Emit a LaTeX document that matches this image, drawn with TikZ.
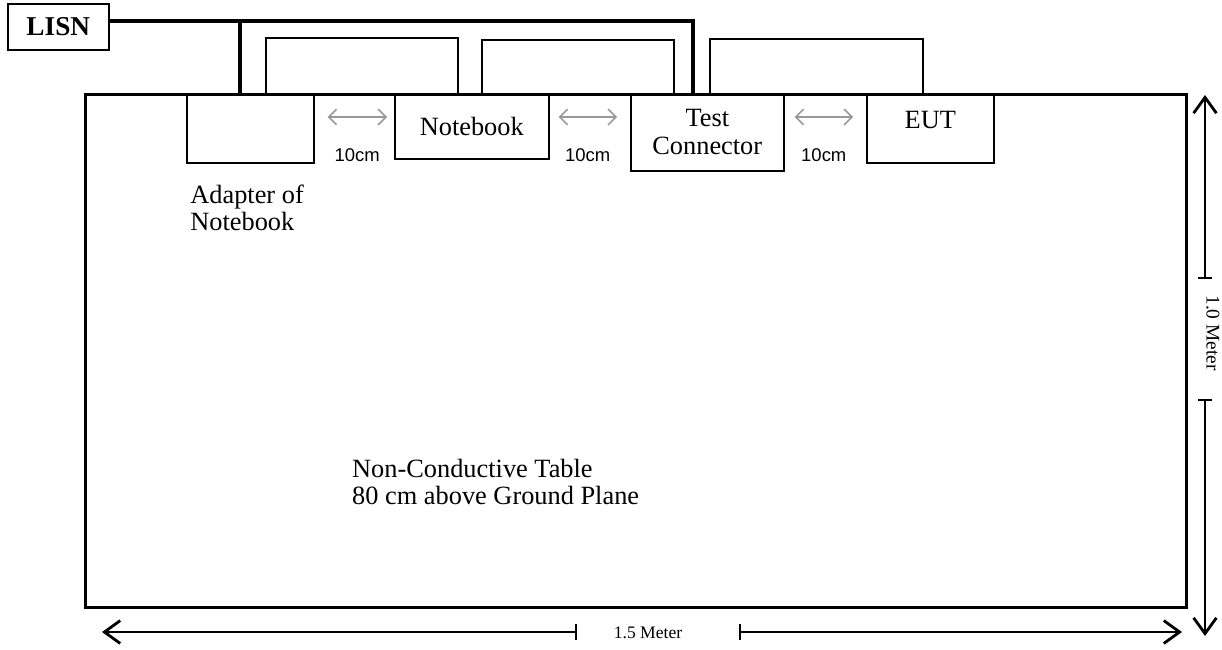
\documentclass[tikz,border=0pt]{standalone}
\usepackage{fontspec}
\setmainfont{Liberation Serif}
\setsansfont{Liberation Sans}
\usetikzlibrary{arrows.meta,positioning,calc}

\begin{document}
\begin{tikzpicture}[x=0.02cm,y=-0.02cm,
    unitbox/.style={draw,line width=0.9pt,anchor=north west,inner sep=0pt,
      font=\fontsize{15}{16}\selectfont,align=center},
    mains/.style={line width=2.2pt},
    lead/.style={line width=0.9pt},
    gap/.style={black!40,line width=0.9pt,{Straight Barb[length=4.5pt,width=9pt]}-{Straight Barb[length=4.5pt,width=9pt]}},
    gaplabel/.style={font=\sffamily\fontsize{10.5}{12}\selectfont,anchor=north,black},
    dim/.style={line width=1.1pt,-{Straight Barb[length=9pt,width=13pt,line width=1.6pt]}},
    dimbar/.style={line width=0.8pt}]
    \useasboundingbox (0,0) rectangle (1222,649);

    % table
    \node[draw,line width=1.7pt,anchor=north west,minimum width=22.02cm,minimum height=10.26cm] (table) at (84,93) {};
    \node[anchor=north west,align=left,font=\fontsize{15}{15.5}\selectfont] (tabletext) at (346,453)
      {Non-Conductive Table\\80 cm above Ground Plane};

    % LISN
    \node[draw,line width=0.9pt,anchor=north west,minimum width=2.02cm,minimum height=0.92cm,
      font=\bfseries\fontsize{15.5}{16}\selectfont] (lisn) at (7,3) {LISN};

    % units on the table
    \node[unitbox,minimum width=2.54cm,minimum height=1.38cm] (adapter) at (186,93) {};
    \node[unitbox,minimum width=3.08cm,minimum height=1.30cm] (notebook) at (394,93) {Notebook};
    \node[unitbox,minimum width=3.06cm,minimum height=1.54cm] (testconn) at (630,93) {Test\\Connector};
    \node[unitbox,minimum width=2.54cm,minimum height=1.38cm,
      label={[font=\fontsize{15}{16}\selectfont,anchor=north,inner sep=0pt,yshift=-10pt]north:EUT}] (eut) at (866,93) {};
    \node[anchor=north west,align=left,inner sep=0pt,font=\fontsize{15}{15.5}\selectfont] (adaptertext)
      at ($(adapter.south west)+(4,21)$) {Adapter of\\Notebook};

    % power cable from LISN
    \draw[mains] ($(lisn.east)+(0,-6)$) -| ($(testconn.north west)+(63,0)$);
    \draw[mains] ($(adapter.north west)+(54,-73)$) -- ($(adapter.north west)+(54,0)$);

    % signal cables
    \draw[lead] ($(adapter.north west)+(80,0)$) -- ++(0,-55) -| ($(notebook.north west)+(64,0)$);
    \draw[lead] ($(notebook.north west)+(88,0)$) -- ++(0,-53) -| ($(testconn.north west)+(44,0)$);
    \draw[lead] ($(testconn.north west)+(80,0)$) -- ++(0,-54) -| ($(eut.north west)+(57,0)$);

    % spacing
    \draw[gap] ($(adapter.north east)+(13,24)$) -- node[gaplabel,below=14pt] (gap1) {10cm} ($(notebook.north west)+(-7,24)$);
    \draw[gap] ($(notebook.north east)+(9,24)$) -- node[gaplabel,below=14pt] (gap2) {10cm} ($(testconn.north west)+(-13,24)$);
    \draw[gap] ($(testconn.north east)+(10,24)$) -- node[gaplabel,below=14pt] (gap3) {10cm} ($(eut.north west)+(-13,24)$);

    % table size
    \coordinate (htop) at (1205,95);
    \coordinate (hbar1) at (1205,278);
    \coordinate (hbar2) at (1205,400);
    \coordinate (hbot) at (1205,636);
    \node[rotate=-90,font=\fontsize{11}{12}\selectfont] (height) at (1213,333) {1.0 Meter};
    \draw[dim] (hbar1) -- (htop);
    \draw[dim] (hbar2) -- (hbot);
    \draw[dimbar] ($(hbar1)+(-7,0)$) -- ($(hbar1)+(7,0)$);
    \draw[dimbar] ($(hbar2)+(-7,0)$) -- ($(hbar2)+(7,0)$);

    \coordinate (wleft) at (102,632);
    \coordinate (wbar1) at (576,632);
    \coordinate (wbar2) at (740,632);
    \coordinate (wright) at (1182,632);
    \node[font=\fontsize{10}{12}\selectfont] (width) at (648,633) {1.5 Meter};
    \draw[dim] (wbar1) -- (wleft);
    \draw[dim] (wbar2) -- (wright);
    \draw[dimbar] ($(wbar1)+(0,-8)$) -- ($(wbar1)+(0,8)$);
    \draw[dimbar] ($(wbar2)+(0,-8)$) -- ($(wbar2)+(0,8)$);
\end{tikzpicture}
\end{document}
